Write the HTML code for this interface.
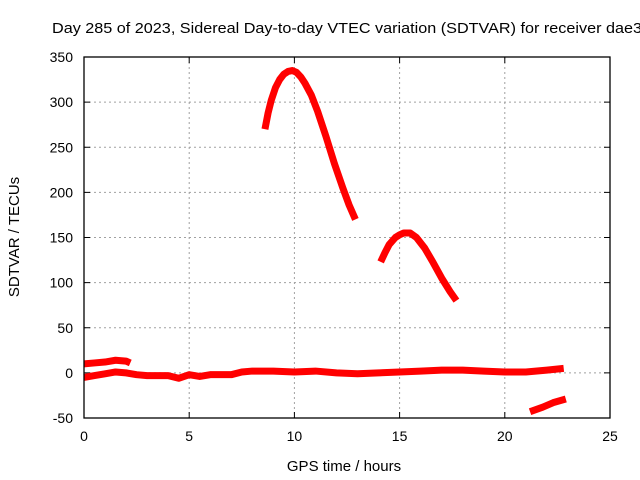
<!DOCTYPE html>
<html><head><meta charset="utf-8"><style>
body{margin:0;background:#fff;}
svg{display:block;font-family:"Liberation Sans",sans-serif;font-size:14px;}
</style></head><body>
<svg id="chart" width="640" height="480">
<text x="52" y="33" textLength="590" lengthAdjust="spacingAndGlyphs" font-size="15">Day 285 of 2023, Sidereal Day-to-day VTEC variation (SDTVAR) for receiver dae3</text>
<text x="344" y="471" text-anchor="middle" font-size="15">GPS time / hours</text>
<text transform="translate(19,237) rotate(-90)" text-anchor="middle" font-size="15">SDTVAR / TECUs</text>
<g id="grid"></g><g id="ticks"></g><g id="series"></g>
<rect x="84" y="57" width="526" height="361" fill="none" stroke="#000" stroke-width="1.3"/>
</svg>
<script>
const xTicks=[0,5,10,15,20,25];
const yTicks=[-50,0,50,100,150,200,250,300,350];
const arc1Hours=[8.6,8.75,8.9,9.1,9.3,9.5,9.7,9.9,10.1,10.3,10.5,10.8,11.1,11.5,11.9,12.3,12.6,12.9];
const arc1Values=[270,288,302,316,325,331,334,335,333,328,321,308,290,262,232,205,186,170];
const arc2Hours=[14.1,14.3,14.5,14.8,15.0,15.2,15.5,15.8,16.2,16.6,17.0,17.4,17.7];
const arc2Values=[123,133,142,150,153,155,155,150,138,122,105,90,80];
const upperHours=[0,0.5,1,1.5,2,2.2];
const upperValues=[10,11,12,14,13,11];
const mainHours=[0,0.5,1,1.5,2,2.5,3,4,4.5,5,5.5,6,7,7.5,8,9,10,11,12,13,14,15,16,17,18,19,20,21,22,22.8];
const mainValues=[-5,-3,-1,1,0,-2,-3,-3,-6,-2,-4,-2,-2,1,2,2,1,2,0,-1,0,1,2,3,3,2,1,1,3,5];
const lowHours=[21.2,21.8,22.3,22.9];
const lowValues=[-43,-38,-33,-29];
const NS="http://www.w3.org/2000/svg";
const X0=84,X1=610,Y0=418,Y1=57;
function sx(h){return X0+(h-0)/(25-0)*(X1-X0);}
function sy(v){return Y0-(v+50)/400*(Y0-Y1);}
function mk(t,a,p){const e=document.createElementNS(NS,t);for(const k in a)e.setAttribute(k,a[k]);p.appendChild(e);return e;}
const grid=document.getElementById('grid'),ticks=document.getElementById('ticks'),ser=document.getElementById('series');
xTicks.forEach(t=>{const x=sx(t);
 if(t>0&&t<25){const g=mk('line',{x1:x,x2:x,y1:Y1,y2:Y0,stroke:'#a0a0a0','stroke-dasharray':'2,3'},grid);
 
 }
 mk('line',{x1:x,x2:x,y1:Y0,y2:Y0-6,stroke:'#000'},ticks);mk('line',{x1:x,x2:x,y1:Y1,y2:Y1+6,stroke:'#000'},ticks);
 const l=mk('text',{x:x,y:Y0+23,'text-anchor':'middle'},ticks);l.textContent=t;
 
 });
yTicks.forEach(t=>{const y=sy(t);
 if(t>-50&&t<350){const g=mk('line',{x1:X0,x2:X1,y1:y,y2:y,stroke:'#a0a0a0','stroke-dasharray':'2,3'},grid);
 
 }
 mk('line',{x1:X0,x2:X0+6,y1:y,y2:y,stroke:'#000'},ticks);mk('line',{x1:X1,x2:X1-6,y1:y,y2:y,stroke:'#000'},ticks);
 const l=mk('text',{x:X0-11,y:y+5,'text-anchor':'end'},ticks);l.textContent=t;
 
 });
function draw(hs,vs,name){const pts=hs.map((h,i)=>sx(h)+','+sy(vs[i])).join(' ');
 const p=mk('polyline',{points:pts,fill:'none',stroke:'#ff0000','stroke-width':7,'stroke-linejoin':'round'},ser);
 
 }
draw(arc1Hours,arc1Values,'series-arc-1');
draw(arc2Hours,arc2Values,'series-arc-2');
draw(upperHours,upperValues,'series-upper-left');
draw(mainHours,mainValues,'series-main');
draw(lowHours,lowValues,'series-lower-right');
</script>
</body></html>
